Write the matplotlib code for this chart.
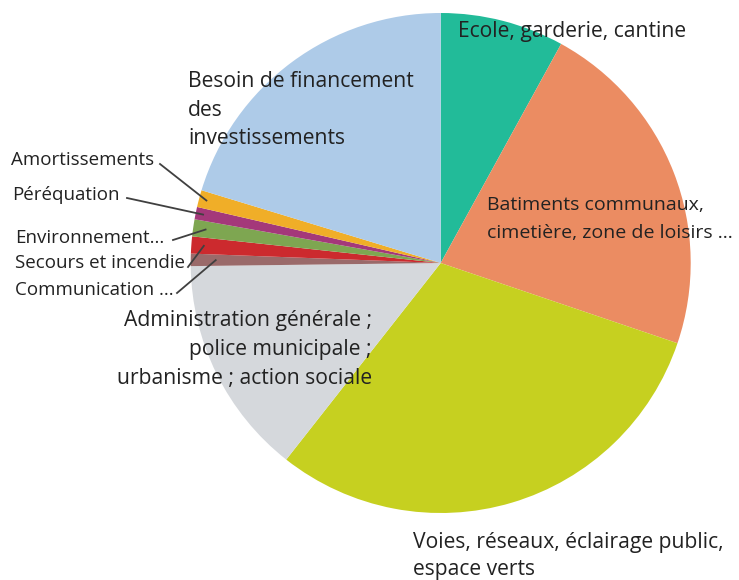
import numpy as np
import matplotlib
matplotlib.use("Agg")
from matplotlib import pyplot as plt

plt.rcParams['font.family'] = ['Open Sans', 'DejaVu Sans']

# parts du budget (%), dans le sens horaire depuis midi
categories = [
    "Ecole, garderie, cantine",
    "Batiments communaux,\ncimetière, zone de loisirs ...",
    "Voies, réseaux, éclairage public,\nespace verts",
    "Administration générale ;\npolice municipale ;\nurbanisme ; action sociale",
    "Communication ...",
    "Secours et incendie",
    "Environnement...",
    "Péréquation",
    "Amortissements",
    "Besoin de financement\ndes\ninvestissements",
]
values = [8.0, 22.2, 30.4, 14.2, 0.8, 1.1, 1.1, 0.8, 1.1, 20.3]
colors = ["#22bb99", "#eb8c62", "#c6d020", "#d5d8dc", "#9a6a6a",
          "#cc2a2e", "#7ea651", "#a4387a", "#f0ae28", "#aecbe8"]

W, H = 739, 580
cx, cy, R = 440.7, 263, 250  # centre et rayon en pixels

fig = plt.figure(figsize=(W / 100, H / 100), dpi=100)
ax = fig.add_axes([(cx - R) / W, (H - cy - R) / H, 2 * R / W, 2 * R / H])
wedges, _ = ax.pie(values, colors=colors, startangle=90, counterclock=False,
                   radius=1, wedgeprops=dict(linewidth=0))
ax.set_xlim(-1, 1)
ax.set_ylim(-1, 1)
ax.axis('off')


def px(x, y):
    # pixel -> coordonnees du camembert
    return (x - cx) / R, (cy - y) / R


txt = dict(fontsize=15.2, color="#222222")
txt_small = dict(fontsize=13.5, color="#222222")

# grandes etiquettes
ax.text(*px(458, 31), categories[0], ha='left', va='center', **txt)
ax.text(*px(487, 219), categories[1], ha='left', va='center', linespacing=1.78,
        fontsize=14.0, color="#222222")
ax.text(*px(413, 556), categories[2], ha='left', va='center', linespacing=1.35, **txt)
ax.text(*px(188, 110), categories[9], ha='left', va='center', linespacing=1.49, **txt)

# administration : alignee a droite
line_y = [320, 350, 378]
for line, y in zip(categories[3].split("\n"), line_y):
    ax.text(*px(372, y), line, ha='right', va='center', **txt)

# petites etiquettes avec traits de rappel
small = {
    4: (px(15, 290), px(177, 293), 0.90),
    5: (px(15, 263), px(188, 267), 0.95),
    6: (px(15, 238), px(173, 240), 0.95),
    7: (px(12, 195), px(127, 198), 0.97),
    8: (px(11, 160), px(160, 164), 0.97),
}
for i, (pos, start, r_end) in small.items():
    w = wedges[i]
    ang = np.deg2rad((w.theta1 + w.theta2) / 2)
    end = (r_end * np.cos(ang), r_end * np.sin(ang))
    ax.text(*pos, categories[i], ha='left', va='center', **txt_small)
    ax.plot([start[0], end[0]], [start[1], end[1]], color="#404040", lw=1.3,
            clip_on=False)

fig.savefig("out.png", dpi=100)
